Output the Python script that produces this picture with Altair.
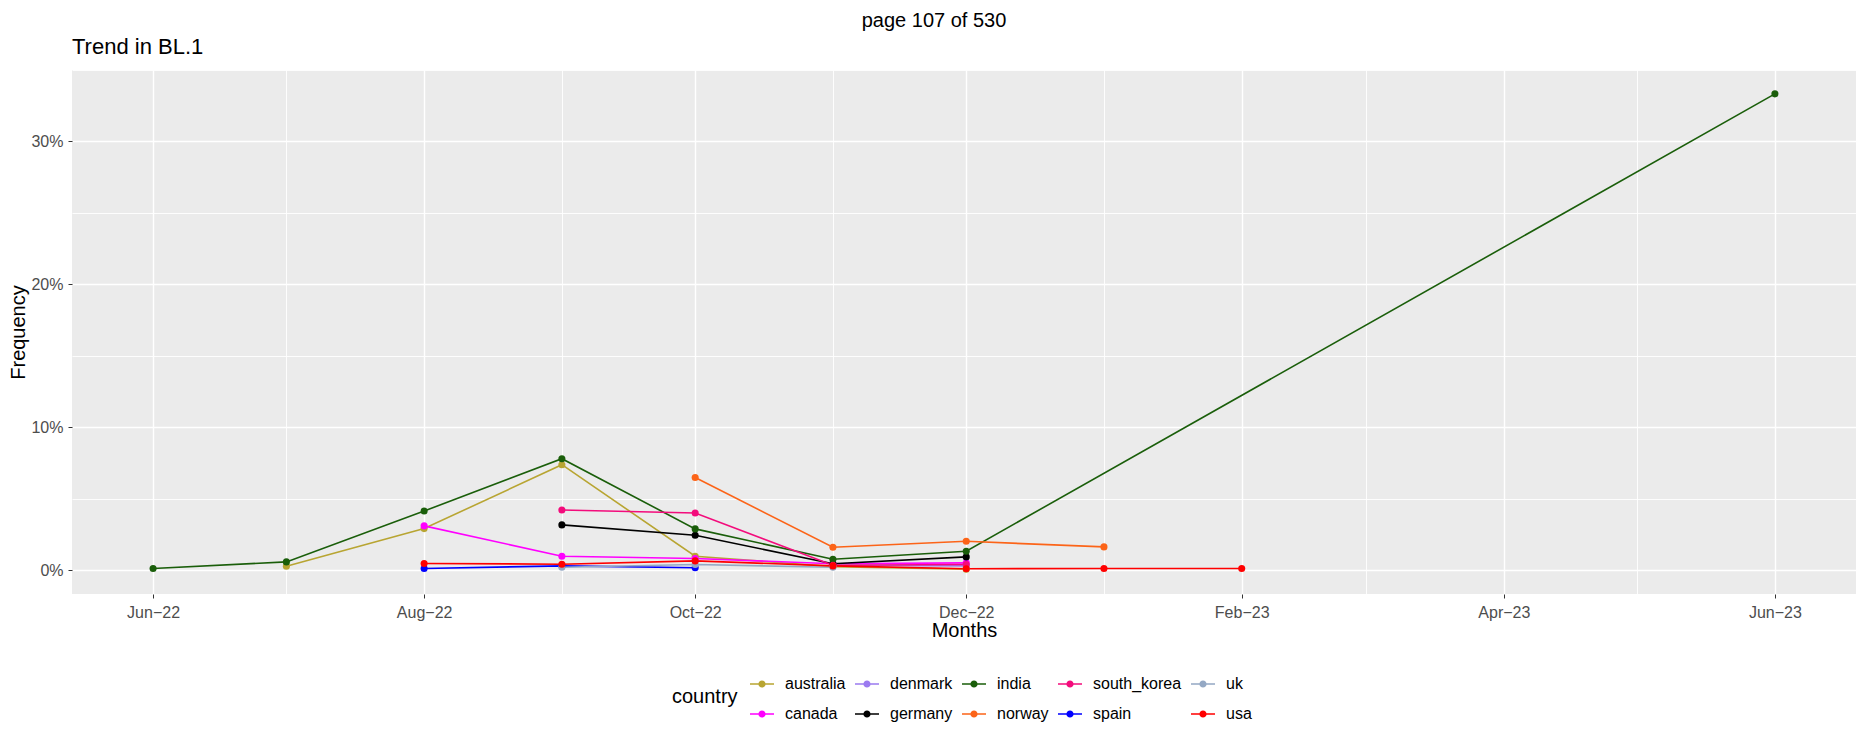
import altair as alt
import pandas as pd

FONT = "Liberation Sans"

countries = ["australia", "canada", "denmark", "germany", "india",
             "norway", "south_korea", "spain", "uk", "usa"]
colors = {"australia": "#B8A532", "canada": "#FF00FF", "denmark": "#9B7BF0",
          "germany": "#000000", "india": "#1A5E0A", "norway": "#FC6418",
          "south_korea": "#F30C7C", "spain": "#0000FF", "uk": "#94A8C4",
          "usa": "#FF0000"}

australia_m = ["2022-07-01", "2022-08-01", "2022-09-01", "2022-10-01", "2022-11-01", "2022-12-01"]
australia_v = [0.28, 2.91, 7.38, 0.98, 0.25, 0.07]
canada_m = ["2022-08-01", "2022-09-01", "2022-10-01", "2022-11-01", "2022-12-01"]
canada_v = [3.10, 0.98, 0.82, 0.45, 0.51]
denmark_m = ["2022-11-01", "2022-12-01"]
denmark_v = [0.35, 0.30]
germany_m = ["2022-09-01", "2022-10-01", "2022-11-01", "2022-12-01"]
germany_v = [3.17, 2.44, 0.45, 0.93]
india_m = ["2022-06-01", "2022-07-01", "2022-08-01", "2022-09-01", "2022-10-01",
           "2022-11-01", "2022-12-01", "2023-06-01"]
india_v = [0.12, 0.58, 4.14, 7.80, 2.89, 0.77, 1.33, 33.33]
norway_m = ["2022-10-01", "2022-11-01", "2022-12-01", "2023-01-01"]
norway_v = [6.49, 1.60, 2.02, 1.63]
south_korea_m = ["2022-09-01", "2022-10-01", "2022-11-01", "2022-12-01"]
south_korea_v = [4.21, 4.00, 0.35, 0.40]
spain_m = ["2022-08-01", "2022-09-01", "2022-10-01"]
spain_v = [0.12, 0.30, 0.17]
uk_m = ["2022-09-01", "2022-10-01", "2022-11-01"]
uk_v = [0.20, 0.40, 0.20]
usa_m = ["2022-08-01", "2022-09-01", "2022-10-01", "2022-11-01", "2022-12-01",
         "2023-01-01", "2023-02-01"]
usa_v = [0.47, 0.42, 0.65, 0.30, 0.10, 0.12, 0.12]

series = {
    "australia": (australia_m, australia_v), "canada": (canada_m, canada_v),
    "denmark": (denmark_m, denmark_v), "germany": (germany_m, germany_v),
    "india": (india_m, india_v), "norway": (norway_m, norway_v),
    "south_korea": (south_korea_m, south_korea_v), "spain": (spain_m, spain_v),
    "uk": (uk_m, uk_v), "usa": (usa_m, usa_v),
}

rows = []
for c in countries:
    ms, vs = series[c]
    for m, v in zip(ms, vs):
        rows.append({"country": c, "month": m, "freq": v})
df = pd.DataFrame(rows)

# legend fills column-wise in ggplot: reorder so row-major layout matches
legend_order = ["australia", "denmark", "india", "south_korea", "uk",
                "canada", "germany", "norway", "spain", "usa"]
color_scale = alt.Scale(domain=legend_order, range=[colors[c] for c in legend_order])

x_ticks = [alt.DateTime(year=y, month=m, date=1, utc=True)
           for (y, m) in [(2022, 6), (2022, 7), (2022, 8), (2022, 9), (2022, 10),
                          (2022, 11), (2022, 12), (2023, 1), (2023, 2), (2023, 3),
                          (2023, 4), (2023, 5), (2023, 6)]]
y_ticks = [0, 5, 10, 15, 20, 25, 30, 35]

x_enc = alt.X(
    "month:T", title="Months",
    scale=alt.Scale(type="utc", nice=False,
                    domain=[alt.DateTime(year=2022, month=5, date=13, hours=18, utc=True),
                            alt.DateTime(year=2023, month=6, date=19, hours=6, utc=True)]),
    axis=alt.Axis(values=x_ticks,
                  labelExpr="utcmonth(datum.value) % 2 == 1 ? utcFormat(datum.value, '%b\u2212%y') : ''",
                  tickOpacity={"condition": {"test": "utcmonth(datum.value) % 2 == 0", "value": 0}, "value": 1},
                  gridWidth={"condition": {"test": "utcmonth(datum.value) % 2 == 0", "value": 0.9}, "value": 1.4},
                  titlePadding=0, labelPadding=6),
)
y_enc = alt.Y(
    "freq:Q", title="Frequency",
    scale=alt.Scale(domain=[-1.6667, 35.0], nice=False, zero=False),
    axis=alt.Axis(values=y_ticks,
                  labelExpr="round(datum.value) % 10 == 0 ? format(datum.value, 'd') + '%' : ''",
                  tickOpacity={"condition": {"test": "round(datum.value) % 10 != 0", "value": 0}, "value": 1},
                  gridWidth={"condition": {"test": "round(datum.value) % 10 != 0", "value": 0.9}, "value": 1.4},
                  titlePadding=2, labelPadding=5),
)

legend_sym = ("M-1,-0.07 L1,-0.07 L1,0.07 L-1,0.07 Z "
              "M-0.3,0 A0.3,0.3 0 1,1 0.3,0 A0.3,0.3 0 1,1 -0.3,0 Z")

base = alt.Chart(df)
lines = base.mark_line(strokeWidth=1.6).encode(
    x=x_enc, y=y_enc,
    color=alt.Color("country:N", scale=color_scale, title="country",
                    legend=alt.Legend(orient="none", legendX=600, legendY=602,
                                      direction="horizontal", columns=5,
                                      titleOrient="left", titleAnchor="middle",
                                      symbolType=legend_sym, symbolSize=576,
                                      symbolStrokeWidth=0, symbolOpacity=1,
                                      labelOffset=11, columnPadding=9, rowPadding=10,
                                      titlePadding=12)),
    detail="country:N",
)
points = base.mark_point(filled=True, size=50, opacity=1).encode(
    x="month:T", y="freq:Q",
    color=alt.Color("country:N", scale=color_scale),
)
page = alt.Chart(pd.DataFrame({"t": ["page 107 of 530"]})).mark_text(
    font=FONT, fontSize=20, color="#000000", baseline="middle", align="center"
).encode(text="t:N", x=alt.value(862), y=alt.value(-49))
ttl = alt.Chart(pd.DataFrame({"t": ["Trend in BL.1"]})).mark_text(
    font=FONT, fontSize=22, color="#000000", baseline="alphabetic", align="left"
).encode(text="t:N", x=alt.value(0), y=alt.value(-16))

chart = alt.layer(lines, points, page, ttl).properties(
    width=1784, height=524,
    autosize=alt.AutoSizeParams(type="none"),
    padding={"left": 64, "top": 62, "right": 3, "bottom": 145},
).configure(background="#FFFFFF").configure_view(fill="#EBEBEB", stroke=None).configure_axis(
    domain=False, gridColor="#FFFFFF", tickColor="#333333", tickSize=4,
    labelFont=FONT, labelFontSize=16, labelColor="#4D4D4D",
    titleFont=FONT, titleFontSize=20, titleFontWeight="normal", titleColor="#000000",
).configure_legend(
    labelFont=FONT, labelFontSize=16, labelColor="#000000",
    titleFont=FONT, titleFontSize=20, titleFontWeight="normal", titleColor="#000000",
)

chart.save("out.html", embed_options={"renderer": "svg", "actions": False})
